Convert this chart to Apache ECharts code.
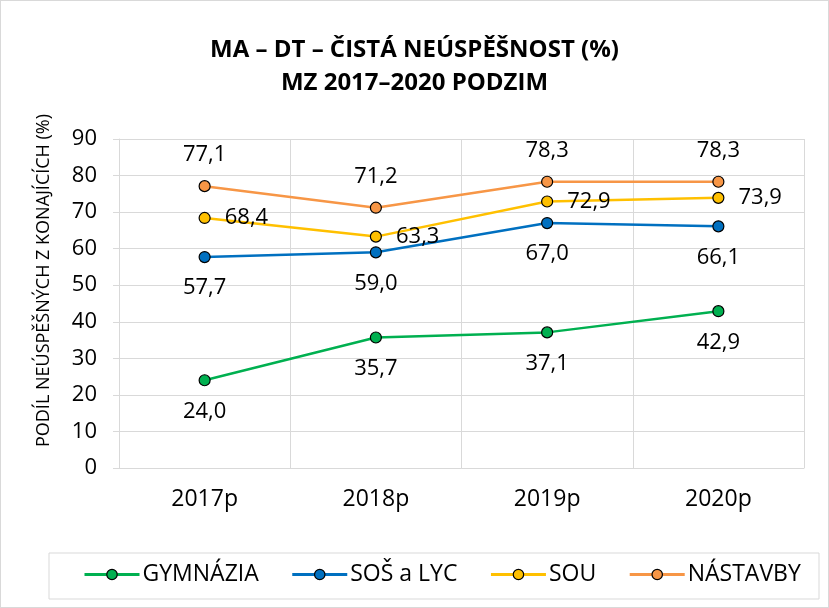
<!DOCTYPE html>
<html>
<head>
<meta charset="utf-8">
<script src="https://cdn.jsdelivr.net/npm/echarts@6/dist/echarts.min.js"></script>
<style>
  html, body { margin: 0; padding: 0; background: #fff; }
  #chart { width: 827px; height: 606px; border: 1px solid #d9d9d9; }
</style>
</head>
<body>
<div id="chart"></div>
<script>
const years = ['2017p', '2018p', '2019p', '2020p']
const gymnazia = [24.0, 35.7, 37.1, 42.9]
const sosLyc = [57.7, 59.0, 67.0, 66.1]
const sou = [68.4, 63.3, 72.9, 73.9]
const nastavby = [77.1, 71.2, 78.3, 78.3]
const yTicks = [0, 10, 20, 30, 40, 50, 60, 70, 80, 90]

const font = '"Open Sans", "Noto Sans", sans-serif'
const fmt = p => p.value.toFixed(1).replace('.', ',')

function makeSeries(name, data, color, pos) {
  return {
    name: name,
    type: 'line',
    data: data,
    symbol: 'circle',
    symbolSize: 11,
    lineStyle: { color: color, width: 2.5 },
    itemStyle: { color: color, borderColor: '#000', borderWidth: 1.2 },
    label: {
      show: true,
      position: pos,
      distance: 14,
      formatter: fmt,
      color: '#000',
      fontSize: 22,
      fontFamily: font
    }
  }
}

const chart = echarts.init(document.getElementById('chart'))
chart.setOption({
  animation: false,
  title: {
    text: 'MA – DT – ČISTÁ NEÚSPĚŠNOST (%)\nMZ 2017–2020 PODZIM',
    left: 'center',
    top: 28,
    textStyle: { fontFamily: font, fontSize: 24, fontWeight: 'bold', color: '#000', lineHeight: 33 }
  },
  graphic: [{
    type: 'rect',
    shape: { x: 48, y: 552, width: 770, height: 46 },
    style: { fill: 'none', stroke: '#d9d9d9', lineWidth: 1 }
  }],
  legend: {
    left: 82,
    top: 562,
    padding: 0,
    itemGap: 32,
    itemWidth: 55,
    itemHeight: 13,
    itemStyle: { borderColor: '#000', borderWidth: 1.2 },
    lineStyle: { width: 3 },
    textStyle: { fontFamily: font, fontSize: 23, color: '#000', padding: [0, 0, 0, -2] },
    data: ['GYMNÁZIA', 'SOŠ a LYC', 'SOU', 'NÁSTAVBY']
  },
  grid: { left: 118, right: 24, top: 138, bottom: 139, containLabel: false },
  xAxis: {
    type: 'category',
    data: years,
    boundaryGap: true,
    axisLine: { lineStyle: { color: '#d9d9d9' } },
    axisTick: { show: false },
    splitLine: { show: true, lineStyle: { color: '#d9d9d9' } },
    axisLabel: { color: '#000', fontSize: 23, fontFamily: font, margin: 20 }
  },
  yAxis: {
    type: 'value',
    min: yTicks[0],
    max: yTicks[yTicks.length - 1],
    interval: 10,
    name: 'PODÍL NEÚSPĚŠNÝCH Z KONAJÍCÍCH (%)',
    nameLocation: 'middle',
    nameGap: 66,
    nameTextStyle: { color: '#000', fontSize: 18, fontFamily: font, padding: [0, 0, 0, 46] },
    axisLine: { show: true, lineStyle: { color: '#d9d9d9' } },
    axisTick: { show: true, length: 6, lineStyle: { color: '#d9d9d9' } },
    splitLine: { lineStyle: { color: '#d9d9d9' } },
    axisLabel: { color: '#000', fontSize: 22, fontFamily: font, margin: 22 }
  },
  series: [
    makeSeries('GYMNÁZIA', gymnazia, '#00b050', 'bottom'),
    makeSeries('SOŠ a LYC', sosLyc, '#0070c0', 'bottom'),
    makeSeries('SOU', sou, '#ffc000', 'right'),
    makeSeries('NÁSTAVBY', nastavby, '#f79646', 'top')
  ]
})
</script>
</body>
</html>
